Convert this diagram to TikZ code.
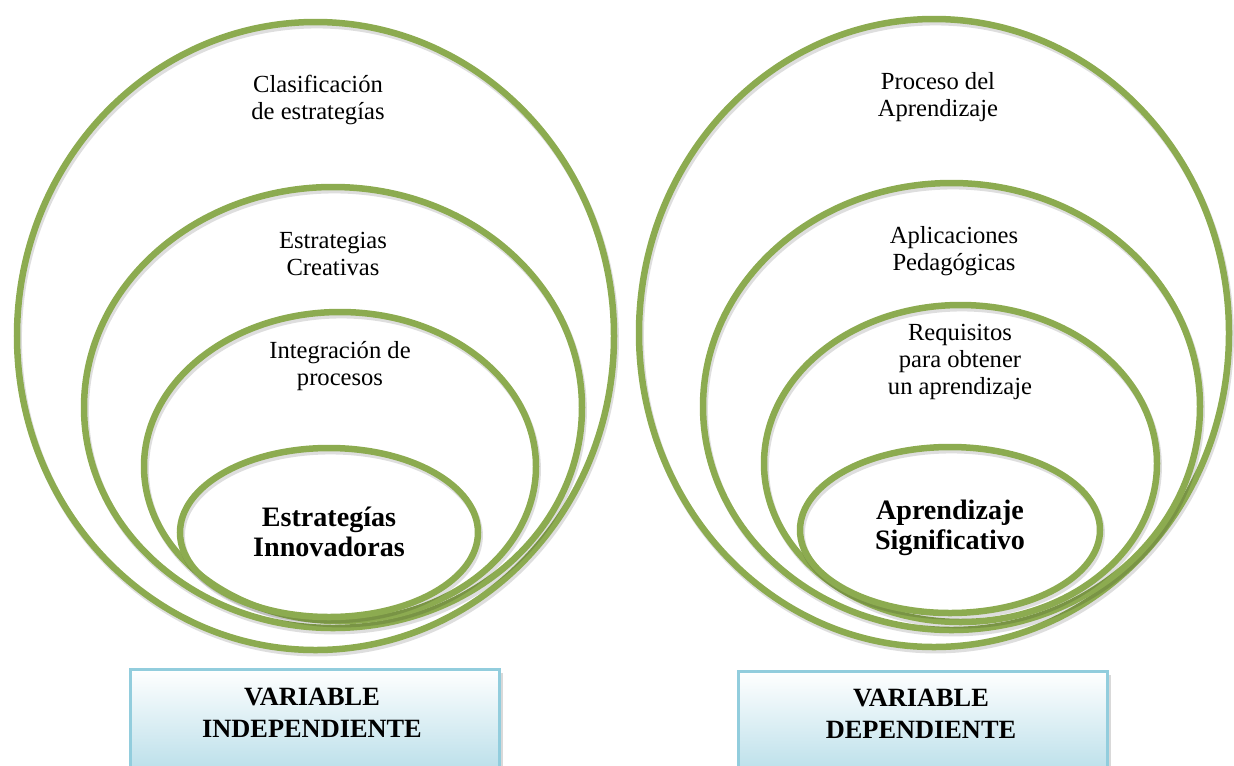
\documentclass[tikz,border=0pt]{standalone}
\usepackage{fontspec}
\setmainfont{Liberation Serif}
\usetikzlibrary{shadows}
\definecolor{ringgreen}{RGB}{140,171,80}
\definecolor{boxline}{RGB}{146,205,221}
\definecolor{boxfill}{RGB}{178,219,231}
\def\ring(#1,#2)(#3:#4){%
	\draw[ringshade] (#1+1.5,#2+3) ellipse [x radius=#3, y radius=#4];
	\draw[ring] (#1,#2) ellipse [x radius=#3, y radius=#4];}

\begin{document}
\begin{tikzpicture}[x=0.02cm,y=-0.02cm,
	ring/.style={ringgreen,line width=3.7pt},
	ringshade/.style={black,opacity=0.13,line width=3.9pt},
	lbl/.style={align=center,font=\fontsize{14}{15.5}\selectfont},
	core/.style={align=center,font=\fontsize{16}{17}\selectfont\bfseries},
	varbox/.style={draw=boxline,line width=1.6pt,top color=white,bottom color=boxfill,
		minimum width=7.38cm,minimum height=2.3cm,anchor=north west,
		drop shadow={opacity=0.3,shadow xshift=2pt,shadow yshift=-2pt}},
	vartxt/.style={align=center,font=\fontsize{15}{18.5}\selectfont\bfseries}]
	\useasboundingbox (0,0) rectangle (1234,765);
	
	%LEFT RINGS (INDEPENDENT VARIABLE)
	\ring(315.5,336)(298.5:314)
	\ring(333,407.5)(249:220.5)
	\ring(340,466.5)(196:154.5)
	\ring(329,532.5)(149:84.5)
	\node[lbl] (clasif) at (318,100) {Clasificación\\de estrategías};
	\node[lbl] (creat) at (333,254) {Estrategias\\Creativas};
	\node[lbl] (integ) at (340,366) {Integración de\\procesos};
	\node[core] (innov) at (329,532) {Estrategías\\Innovadoras};
	
	%RIGHT RINGS (DEPENDENT VARIABLE)
	\ring(934,333)(295:314)
	\ring(951.5,406.5)(248.5:223.5)
	\ring(960.5,463.5)(196.5:158.5)
	\ring(950,530)(150:83)
	\node[lbl] (proc) at (938,97) {Proceso del\\Aprendizaje};
	\node[lbl] (aplic) at (954,251) {Aplicaciones\\Pedagógicas};
	\node[lbl] (requi) at (960,362) {Requisitos\\para obtener\\un aprendizaje};
	\node[core] (signif) at (950,528) {Aprendizaje\\Significativo};
	
	%BOXES
	\node[varbox] (boxI) at (129,668) {};
	\node[vartxt] (varI) at (312,713) {VARIABLE\\INDEPENDIENTE};
	\node[varbox] (boxD) at (737,670) {};
	\node[vartxt] (varD) at (921,714) {VARIABLE\\DEPENDIENTE};
\end{tikzpicture}
\end{document}
